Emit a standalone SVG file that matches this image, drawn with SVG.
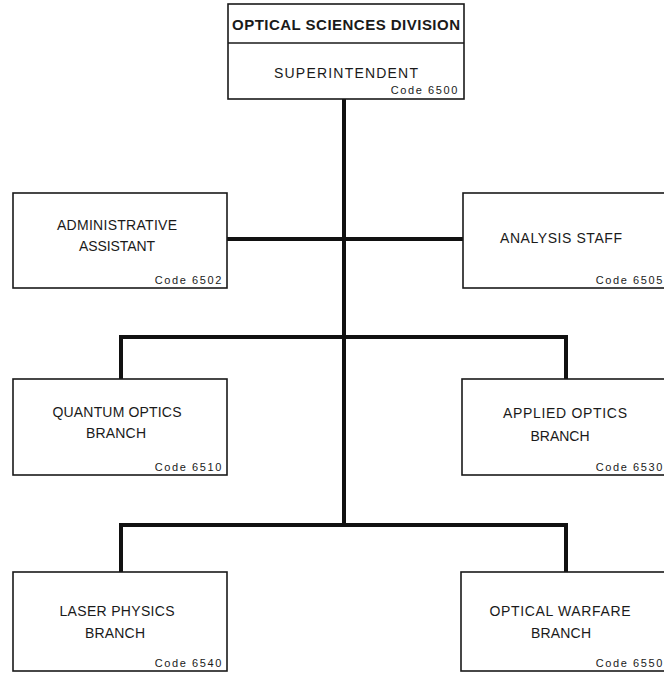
<svg xmlns="http://www.w3.org/2000/svg" width="664" height="673" viewBox="0 0 664 673">
<style>
.box{fill:#fff;stroke:#1a1a1a;stroke-width:1.6}
.conn{fill:none;stroke:#111;stroke-width:4;stroke-linejoin:miter}
text{font-family:"Liberation Sans",Arial,sans-serif;fill:#1a1a1a}
.t{font-size:14px;text-anchor:middle}
.c{font-size:11px;text-anchor:end;letter-spacing:1.6px}
.h{font-size:15px;font-weight:bold;text-anchor:middle}
</style>
<rect width="664" height="673" fill="#fff"/>
<g id="connectors">
<path class="conn" d="M344 99 V525"/>
<path class="conn" d="M227 239 H463"/>
<path class="conn" d="M121 379 V337 H566 V379"/>
<path class="conn" d="M121 572 V525 H566 V572"/>
</g>
<g id="superintendent">
<rect class="box" x="228" y="4" width="236" height="95"/>
<line x1="228" y1="43" x2="464" y2="43" stroke="#1a1a1a" stroke-width="1.6"/>
<text class="h" x="346" y="30" textLength="228" lengthAdjust="spacing">OPTICAL SCIENCES DIVISION</text>
<text class="t" x="346" y="78" textLength="144" lengthAdjust="spacing">SUPERINTENDENT</text>
<text class="c" x="459" y="94">Code 6500</text>
</g>
<g id="admin">
<rect class="box" x="13" y="193" width="214" height="95"/>
<text class="t" x="117" y="230" textLength="120" lengthAdjust="spacing">ADMINISTRATIVE</text>
<text class="t" x="117" y="251" textLength="76" lengthAdjust="spacing">ASSISTANT</text>
<text class="c" x="223" y="284">Code 6502</text>
</g>
<g id="analysis">
<rect class="box" x="463" y="193" width="210" height="95"/>
<text class="t" x="561" y="243" textLength="122" lengthAdjust="spacing">ANALYSIS STAFF</text>
<text class="c" x="664" y="284">Code 6505</text>
</g>
<g id="quantum">
<rect class="box" x="13" y="379" width="214" height="96"/>
<text class="t" x="117" y="417" textLength="129" lengthAdjust="spacing">QUANTUM OPTICS</text>
<text class="t" x="116" y="438" textLength="60" lengthAdjust="spacing">BRANCH</text>
<text class="c" x="223" y="471">Code 6510</text>
</g>
<g id="applied">
<rect class="box" x="462" y="379" width="210" height="96"/>
<text class="t" x="565" y="418" textLength="124" lengthAdjust="spacing">APPLIED OPTICS</text>
<text class="t" x="560" y="441" textLength="59" lengthAdjust="spacing">BRANCH</text>
<text class="c" x="664" y="471">Code 6530</text>
</g>
<g id="laser">
<rect class="box" x="13" y="572" width="214" height="99"/>
<text class="t" x="117" y="616" textLength="115" lengthAdjust="spacing">LASER PHYSICS</text>
<text class="t" x="115" y="638" textLength="60" lengthAdjust="spacing">BRANCH</text>
<text class="c" x="223" y="667">Code 6540</text>
</g>
<g id="warfare">
<rect class="box" x="461" y="572" width="212" height="99"/>
<text class="t" x="560" y="616" textLength="141" lengthAdjust="spacing">OPTICAL WARFARE</text>
<text class="t" x="561" y="638" textLength="60" lengthAdjust="spacing">BRANCH</text>
<text class="c" x="664" y="667">Code 6550</text>
</g>
</svg>
